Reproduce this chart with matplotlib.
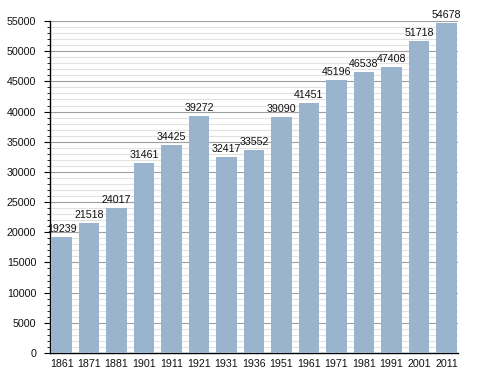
import matplotlib
matplotlib.use("Agg")
import matplotlib.pyplot as plt
from matplotlib.ticker import MultipleLocator

years = ["1861", "1871", "1881", "1901", "1911", "1921", "1931", "1936",
         "1951", "1961", "1971", "1981", "1991", "2001", "2011"]
population = [19239, 21518, 24017, 31461, 34425, 39272, 32417, 33552,
              39090, 41451, 45196, 46538, 47408, 51718, 54678]

plt.rcParams['font.family'] = ['Liberation Sans', 'DejaVu Sans']

fig = plt.figure(figsize=(4.88, 3.73), dpi=100)
ax = fig.add_axes([50/488, 1-353/373, 408/488, 332/373])

x = list(range(len(years)))
ax.bar(x, population, width=0.76, color='#9bb4ce', zorder=3)
for xi, v in zip(x, population):
    ax.text(xi, v + 850, str(v), ha='center', va='baseline', fontsize=7.7,
            color='#111111', zorder=4)

ax.set_xlim(-0.42, len(years) - 1 + 0.42)
ax.set_ylim(0, 55000)
ax.set_xticks(x)
ax.set_xticklabels(years)
ax.yaxis.set_major_locator(MultipleLocator(5000))
ax.yaxis.set_minor_locator(MultipleLocator(1000))
ax.grid(axis='y', which='major', color='#a0a0a0', linewidth=0.8, zorder=1)
ax.grid(axis='y', which='minor', color='#e2e2e2', linewidth=0.8, zorder=0)
ax.tick_params(axis='x', length=0, labelsize=7.7, pad=4, labelcolor='#111111')
ax.tick_params(axis='y', which='major', length=4, width=0.8, labelsize=7.7,
               direction='out', pad=6, labelcolor='#111111')
ax.tick_params(axis='y', which='minor', length=2.3, width=0.6, direction='out')
for s in ['top', 'right']:
    ax.spines[s].set_visible(False)
ax.spines['left'].set_linewidth(1.0)
ax.spines['bottom'].set_linewidth(1.0)

fig.savefig("out.png", dpi=100)
